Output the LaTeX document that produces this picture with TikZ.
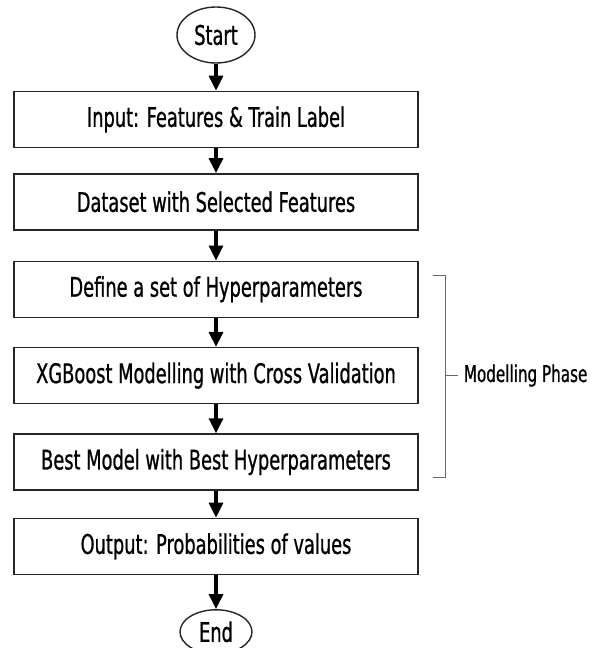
\documentclass[tikz,border=0pt]{standalone}
\usepackage{fontspec}
\setmainfont{DejaVu Sans}[FakeStretch=0.66,FakeBold=0.8]
\usetikzlibrary{positioning,shapes.geometric,arrows.meta}

\tikzset{
  stage/.style={draw=black!85, line width=1.4pt, rectangle, minimum width=404pt,
    minimum height=56pt, inner sep=0pt, font=\fontsize{27}{30}\selectfont},
  term/.style={draw=black!85, line width=1.4pt, ellipse, minimum width=78pt,
    minimum height=56pt, inner sep=0pt, font=\fontsize{27}{30}\selectfont},
  flow/.style={draw=black, line width=3.2pt, -{Triangle[width=14pt,length=15pt]}},
  brace/.style={draw=black!60, line width=1.3pt},
}

\begin{document}
\begin{tikzpicture}

    \useasboundingbox (0,0) rectangle (596pt,-648pt);

    % Define nodes

    \node[term] at (216pt,-35pt)              (start){Start}; %
    \node[stage, below=27pt of start]         (input){Input: Features \& Train Label}; %
    \node[stage, below=25pt of input]         (dataset){Dataset with Selected Features}; %
    \node[stage, below=30pt of dataset]       (hyper){Define a set of Hyperparameters}; %
    \node[stage, below=29pt of hyper]         (xgb){XGBoost Modelling with Cross Validation}; %
    \node[stage, below=29pt of xgb]           (best){Best Model with Best Hyperparameters}; %
    \node[stage, below=27pt of best]          (output){Output: Probabilities of values}; %
    \node[term, minimum width=72pt, minimum height=44pt,
          below=34pt of output]               (end){End}; %

    % Connect the nodes
    \draw[flow] (start) -- (input) ;
    \draw[flow] (input) -- (dataset) ;
    \draw[flow] (dataset) -- (hyper) ;
    \draw[flow] (hyper) -- (xgb) ;
    \draw[flow] (xgb) -- (best) ;
    \draw[flow] (best) -- (output) ;
    \draw[flow] (output) -- (end) ;

    % Phase bracket
    \coordinate (br_top) at ([xshift=14pt,yshift=-15pt]hyper.north east); %
    \coordinate (br_bot) at ([xshift=14pt,yshift=13pt]best.south east); %
    \coordinate (br_mid) at ([xshift=27pt]xgb.east); %
    \coordinate (br_tick) at ([xshift=39pt]xgb.east); %
    \draw[brace] (br_top) -- ++(13pt,0) |- (br_bot) ;
    \draw[brace] (br_mid) -- (br_tick) ;
    \node[right=6pt of br_tick, font=\fontsize{23}{26}\selectfont, inner sep=0pt]
          (phase){Modelling Phase}; %

\end{tikzpicture}
\end{document}
